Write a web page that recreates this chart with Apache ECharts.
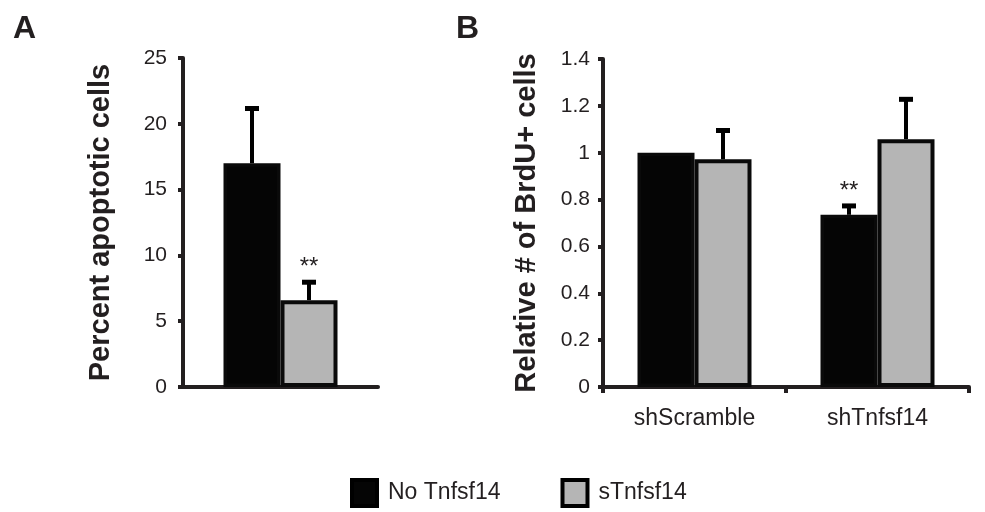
<!DOCTYPE html>
<html>
<head>
<meta charset="utf-8">
<script src="https://cdn.jsdelivr.net/npm/echarts@6/dist/echarts.min.js"></script>
<style>html,body{margin:0;padding:0;background:#fff}#c{width:985px;height:512px}</style>
</head>
<body>
<div id="c"></div>
<script>
// ---- data ----
var seriesNames = ['No Tnfsf14', 'sTnfsf14'];
var catsA = [''];
var noA = [17.0];
var sA = [6.6];
var noAErr = [4.2];
var sAErr = [1.4];
var sigNoA = [''];
var sigSA = ['**'];

var catsB = ['shScramble', 'shTnfsf14'];
var noB = [1.0, 0.735];
var sB = [0.972, 1.058];
var noBErr = [0, 0.04];
var sBErr = [0.125, 0.172];
var sigNoB = ['', '**'];
var sigSB = ['', ''];

var ticksA = {min: 0, max: 25, interval: 5};
var ticksB = {min: 0, max: 1.4, interval: 0.2};

// ---- styles ----
var FONT = "'Liberation Sans', Arial, sans-serif";
var AX = '#231f20';
var BW = 57;

function errSeries(name, xi, yi, cats, vals, errs, sigs, side) {
  var data = cats.map(function (c, i) { return [i, vals[i], errs[i], sigs[i]]; });
  return {
    type: 'custom', name: name, xAxisIndex: xi, yAxisIndex: yi, z: 10,
    silent: true,
    data: data,
    encode: {x: 0, y: 1},
    renderItem: function (params, api) {
      var i = api.value(0), v = api.value(1), e = api.value(2);
      var sig = data[params.dataIndex][3];
      var base = api.coord([i, v]);
      var top = api.coord([i, v + e]);
      var x = base[0] + side * BW / 2;
      var children = [];
      if (e > 0) {
        children.push({type: 'line', shape: {x1: x, y1: base[1], x2: x, y2: top[1]},
          style: {stroke: '#000', lineWidth: 4}});
        children.push({type: 'rect', shape: {x: x - 7, y: top[1] - 2, width: 14, height: 5},
          style: {fill: '#000'}});
      }
      if (sig) {
        children.push({type: 'text', x: x, y: top[1] - 2,
          style: {text: sig, fill: '#231f20', font: '24px ' + FONT, align: 'center', verticalAlign: 'bottom'}});
      }
      return {type: 'group', children: children};
    }
  };
}

function yAx(gi, t, name, gap, margin) {
  return {
    type: 'value', gridIndex: gi, min: t.min, max: t.max, interval: t.interval,
    name: name, nameLocation: 'middle', nameRotate: 90, nameGap: gap,
    nameTextStyle: {fontFamily: FONT, fontSize: 29, fontWeight: 'bold', color: '#231f20', padding: [0, 0, 0, 0]},
    axisLine: {show: true, lineStyle: {color: AX, width: 4}},
    axisTick: {show: true, length: 5, lineStyle: {color: AX, width: 4}},
    axisLabel: {fontFamily: FONT, fontSize: 21, color: '#231f20', margin: margin},
    splitLine: {show: false}
  };
}

function xAx(gi, cats, ticks) {
  return {
    type: 'category', gridIndex: gi, data: cats,
    axisLine: {show: true, lineStyle: {color: AX, width: 4}},
    axisTick: {show: ticks, length: 6, lineStyle: {color: AX, width: 4}},
    axisLabel: {fontFamily: FONT, fontSize: 23, color: '#231f20', margin: 20}
  };
}

var blackStyle = {color: '#050505', borderColor: '#0a0a0a', borderWidth: 3.5};
var grayStyle = {color: '#b5b5b5', borderColor: '#0a0a0a', borderWidth: 4};

var chart = echarts.init(document.getElementById('c'), null, {renderer: 'canvas'});
chart.setOption({
  animation: false,
  backgroundColor: '#fff',
  title: [
    {text: 'A', left: 8, top: 8, textStyle: {fontFamily: FONT, fontSize: 32, fontWeight: 'bold', color: '#231f20'}},
    {text: 'B', left: 451, top: 8, textStyle: {fontFamily: FONT, fontSize: 32, fontWeight: 'bold', color: '#231f20'}}
  ],
  legend: {
    data: seriesNames, left: 350, top: 478, padding: 0, itemWidth: 25, itemHeight: 26, itemGap: 60,
    textStyle: {fontFamily: FONT, fontSize: 23, color: '#231f20', padding: [0, 0, 0, 6]},
    icon: 'rect',
    itemStyle: {borderWidth: 4, borderColor: '#000'}
  },
  grid: [
    {left: 183, right: 607, top: 58, bottom: 125},
    {left: 603, right: 16, top: 59, bottom: 125}
  ],
  xAxis: [xAx(0, catsA, false), xAx(1, catsB, true)],
  yAxis: [yAx(0, ticksA, 'Percent apoptotic cells', 68, 16), yAx(1, ticksB, 'Relative # of BrdU+ cells', 62, 13)],
  series: [
    {type: 'bar', name: seriesNames[0], xAxisIndex: 0, yAxisIndex: 0, data: noA, barWidth: BW, barGap: 0, itemStyle: blackStyle},
    {type: 'bar', name: seriesNames[1], xAxisIndex: 0, yAxisIndex: 0, data: sA, barWidth: BW, barGap: 0, itemStyle: grayStyle},
    {type: 'bar', name: seriesNames[0], xAxisIndex: 1, yAxisIndex: 1, data: noB, barWidth: BW, barGap: 0, itemStyle: blackStyle},
    {type: 'bar', name: seriesNames[1], xAxisIndex: 1, yAxisIndex: 1, data: sB, barWidth: BW, barGap: 0, itemStyle: grayStyle},
    errSeries('errNoA', 0, 0, catsA, noA, noAErr, sigNoA, -1),
    errSeries('errSA', 0, 0, catsA, sA, sAErr, sigSA, 1),
    errSeries('errNoB', 1, 1, catsB, noB, noBErr, sigNoB, -1),
    errSeries('errSB', 1, 1, catsB, sB, sBErr, sigSB, 1)
  ]
});
</script>
</body>
</html>
